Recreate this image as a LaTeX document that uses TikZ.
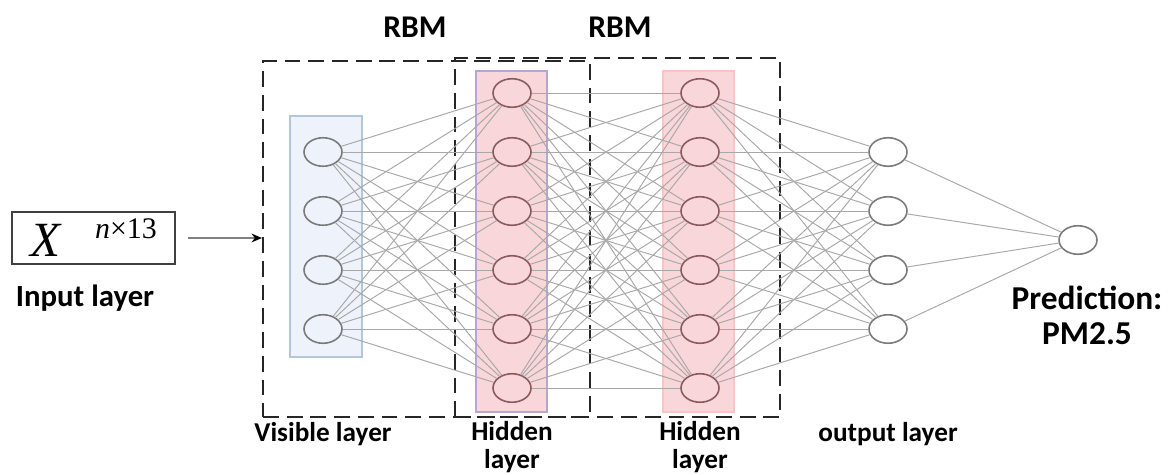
\documentclass[tikz,border=0pt]{standalone}
\usepackage{fontspec}
\setsansfont{Carlito}
\newfontfamily\timesfont{Liberation Serif}
\usetikzlibrary{arrows.meta, shapes.geometric}

\definecolor{visblue}{HTML}{EEF2FA}
\definecolor{visedge}{HTML}{B4C6DE}
\definecolor{hidpink}{HTML}{F9D6D9}
\definecolor{hidedge}{HTML}{B4A8D2}
\definecolor{nodegray}{HTML}{7A7A7A}
\definecolor{nodebrown}{HTML}{8A5A5E}
\definecolor{linkgray}{HTML}{A8A8A8}

\begin{document}
\begin{tikzpicture}[
    neuron/.style={ellipse, draw=nodegray, line width=0.9pt,
                   inner sep=0pt, minimum width=0.76cm, minimum height=0.57cm},
    hneuron/.style={neuron, draw=nodebrown},
    link/.style={linkgray, line width=0.55pt},
    band/.style={draw=visedge, fill=visblue, line width=0.6pt,
                 minimum width=1.44cm, inner sep=0pt},
    hband/.style={band, draw=hidedge, fill=hidpink, minimum width=1.42cm,
                  minimum height=6.82cm},
    rbmbox/.style={draw=black!85, line width=1.1pt,
                   dash pattern=on 9pt off 4.5pt, inner sep=0pt},
    arr/.style={-{Stealth[black, length=6pt, width=5pt]}, black!50,
                line width=0.7pt, shorten <=0.24cm},
    lbl/.style={font=\sffamily\bfseries\fontsize{15.5}{15.5}\selectfont,
                align=center, inner sep=0pt},
    toplbl/.style={font=\sffamily\bfseries\fontsize{18}{18}\selectfont,
                   inner sep=0pt},
]
\useasboundingbox (0,0) rectangle (23.36,-9.5);

% Layer bands
\node[band, minimum height=4.82cm] (visband) at (6.52,-4.73) {};
\node[hband] (hband1) at (10.23,-4.83) {};
\node[hband, draw=hidpink!80!red!70] (hband2) at (13.97,-4.83) {};

% RBM boxes
\node[rbmbox, minimum width=6.54cm, minimum height=7.12cm] (rbmA) at (8.53,-4.78) {};
\node[rbmbox, minimum width=6.50cm, minimum height=7.18cm] (rbmB) at (12.35,-4.75) {};
\node[toplbl] (rbmlblA) at (8.30,-0.54) {RBM};
\node[toplbl] (rbmlblB) at (12.40,-0.54) {RBM};

% Input
\node[draw=black!75, line width=1pt, minimum width=3.26cm,
      minimum height=1.04cm, inner sep=0pt] (inbox) at (1.87,-4.76)
    {{\fontsize{28}{28}\timesfont\itshape X}\hspace{0.7cm}%
     \raisebox{0.36cm}{\fontsize{17}{17}\timesfont\itshape n\upshape ×13}};
\node[toplbl, font=\sffamily\bfseries\fontsize{17.5}{17.5}\selectfont]
    (inlbl) at (1.70,-5.96) {Input layer};
\draw[arr] (inbox.east) -- (inbox.east -| rbmA.west);

% Neurons
\foreach \i/\y in {1/-3.04, 2/-4.22, 3/-5.40, 4/-6.58} {
    \node[neuron] (v\i) at (6.46,\y) {};
    \node[neuron] (o\i) at (17.76,\y) {};
}
\foreach \j/\y in {1/-1.86, 2/-3.04, 3/-4.22, 4/-5.40, 5/-6.58, 6/-7.76} {
    \node[hneuron] (ha\j) at (10.24,\y) {};
    \node[hneuron] (hb\j) at (14.00,\y) {};
}
\node[neuron] (pred) at (21.56,-4.80) {};

% Connections
\foreach \j in {1,...,6} {
    \foreach \i in {1,...,4} {
        \draw[link] (v\i) -- (ha\j);
        \draw[link] (hb\j) -- (o\i);
    }
    \foreach \k in {1,...,6}
        \draw[link] (ha\j) -- (hb\k);
}
\foreach \i in {1,...,4}
    \draw[link] (o\i) -- (pred);

% Labels
\node[lbl, anchor=base] (vislbl) at (6.46,-8.82) {Visible layer};
\node[lbl, anchor=base] (hidlblA) at (10.24,-9.36) {Hidden\\layer};
\node[lbl, anchor=base] (hidlblB) at (14.00,-9.36) {Hidden\\layer};
\node[lbl, anchor=base] (outlbl) at (17.76,-8.82) {output layer};
\node[toplbl, align=center, font=\sffamily\bfseries\fontsize{19}{20}\selectfont]
    (predlbl) at (21.74,-6.30) {Prediction:\\PM2.5};

\end{tikzpicture}
\end{document}
